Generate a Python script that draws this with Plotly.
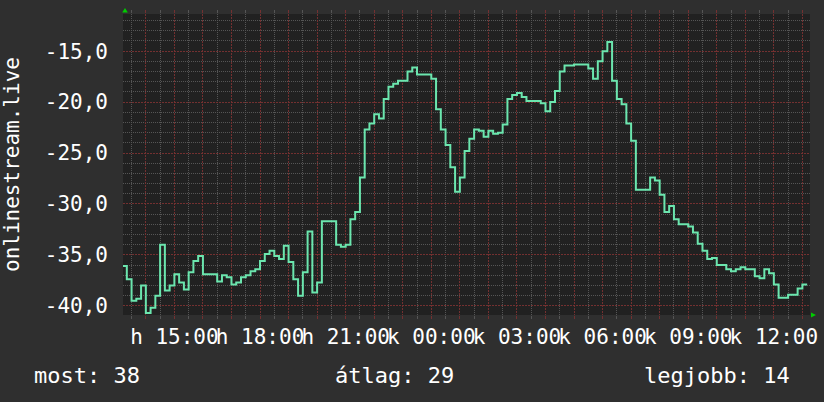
import pandas as pd
import plotly.graph_objects as go

# ---- data ----
start_time = "2024-01-01 13:10"   # Monday (h) -> Tuesday (k)
step_minutes = 10
values = [
    -36.1, -37.4, -39.5, -39.3, -38.0, -40.7, -40.2, -39.0, -34.0, -38.5,
    -38.0, -36.9, -37.7, -38.4, -36.7, -35.6, -35.1, -36.9, -36.9, -36.9,
    -37.6, -37.0, -37.2, -37.9, -37.7, -37.2, -37.0, -36.6, -36.4, -35.6,
    -34.9, -34.6, -35.1, -35.4, -34.1, -35.7, -37.4, -39.0, -36.7, -32.7,
    -38.7, -37.7, -31.7, -31.7, -31.7, -34.0, -34.2, -34.0, -31.5, -30.8,
    -27.4, -22.7, -22.1, -21.2, -21.6, -19.7, -18.5, -18.2, -17.9, -17.9,
    -17.0, -16.6, -17.3, -17.3, -17.3, -17.7, -20.7, -22.7, -24.2, -26.4,
    -28.8, -27.4, -24.8, -23.6, -22.7, -22.8, -23.4, -22.8, -23.1, -23.0,
    -22.2, -19.7, -19.3, -19.1, -19.5, -19.9, -19.9, -19.9, -20.1, -20.9,
    -20.0, -18.9, -17.0, -16.4, -16.4, -16.3, -16.3, -16.3, -16.7, -17.7,
    -16.0, -15.0, -14.1, -17.9, -19.7, -20.2, -22.1, -23.8, -28.6, -28.6,
    -28.6, -27.4, -27.7, -29.1, -30.8, -30.2, -31.5, -32.0, -32.0, -32.2,
    -32.8, -33.9, -34.6, -35.4, -35.3, -36.0, -36.0, -36.4, -36.6, -36.4,
    -36.2, -36.4, -36.4, -37.1, -37.3, -36.4, -36.8, -37.9, -39.2, -39.2,
    -38.9, -38.9, -38.3, -37.9, -37.9,
]
times = pd.date_range(start_time, periods=len(values), freq=f"{step_minutes}min")

x_range = ["2024-01-01 13:12", "2024-01-02 13:16"]
halfhour_ticks = pd.date_range("2024-01-01 13:30", "2024-01-02 12:30", freq="1h")
hour_ticks = pd.date_range("2024-01-01 14:00", "2024-01-02 13:00", freq="1h")
label_ticks = {
    "2024-01-01 15:00": "h 15:00",
    "2024-01-01 18:00": "h 18:00",
    "2024-01-01 21:00": "h 21:00",
    "2024-01-02 00:00": "k 00:00",
    "2024-01-02 03:00": "k 03:00",
    "2024-01-02 06:00": "k 06:00",
    "2024-01-02 09:00": "k 09:00",
    "2024-01-02 12:00": "k 12:00",
}
x_ticktext = [label_ticks.get(t.strftime("%Y-%m-%d %H:%M"), "") for t in hour_ticks]

y_minor_ticks = [v for v in range(-40, -11) if v % 5 != 0]
y_ticks = [-40, -35, -30, -25, -20, -15]
y_ticktext = ["-40,0", "-35,0", "-30,0", "-25,0", "-20,0", "-15,0"]
y_range = [-40.9, -11.35]

y_title = "onlinestream.live"
footer_texts = ["most: 38", "átlag: 29", "legjobb: 14"]

# ---- style ----
FONT = "DejaVu Sans Mono"
PAPER = "#2f2f2f"
PLOT = "#212121"
MINOR = "#555555"
MAJOR = "#733030"
LINE = "#6be6ae"
MINOR_DASH = "1px,1px"
MAJOR_DASH = "2px,1px"
TXT = "#ffffff"

fig = go.Figure()
fig.add_trace(go.Scatter(
    x=times, y=values, mode="lines", line=dict(color=LINE, width=2, shape="hv"),
    hoverinfo="skip", showlegend=False,
))
# invisible copy on the overlay axes (carries the major grid + labels)
fig.add_trace(go.Scatter(
    x=times, y=values, mode="lines", line=dict(width=0), opacity=0,
    xaxis="x2", yaxis="y2", hoverinfo="skip", showlegend=False,
))

W, H = 824, 402
L, R, T, B = 123, 14, 14, 87
pw = W - L - R
ph = H - T - B

common = dict(zeroline=False, showline=False, fixedrange=True, automargin=False)

fig.update_layout(
    width=W, height=H,
    margin=dict(l=L, r=R, t=T, b=B, pad=0),
    paper_bgcolor=PAPER, plot_bgcolor=PLOT,
    font=dict(family=FONT, size=21, color=TXT),
    xaxis=dict(
        range=x_range, tickmode="array", tickvals=halfhour_ticks, showticklabels=False,
        showgrid=True, gridcolor=MINOR, griddash=MINOR_DASH, gridwidth=1,
        ticks="outside", ticklen=3, tickcolor=MINOR, mirror="ticks", **common,
    ),
    yaxis=dict(
        range=y_range, tickmode="array", tickvals=y_minor_ticks, showticklabels=False,
        showgrid=True, gridcolor=MINOR, griddash=MINOR_DASH, gridwidth=1, ticks="", **common,
    ),
    xaxis2=dict(
        overlaying="x", anchor="y2", side="bottom",
        range=x_range, tickmode="array", tickvals=hour_ticks, ticktext=x_ticktext,
        tickangle=0, showgrid=True, gridcolor=MAJOR, griddash=MAJOR_DASH, gridwidth=1,
        ticks="outside", ticklen=3, tickcolor=MAJOR, mirror="ticks",
        tickfont=dict(family=FONT, size=21, color=TXT), **common,
    ),
    yaxis2=dict(
        overlaying="y", anchor="x2", side="left",
        range=y_range, tickmode="array", tickvals=y_ticks, ticktext=y_ticktext,
        showgrid=True, gridcolor=MAJOR, griddash=MAJOR_DASH, gridwidth=1,
        ticks="", ticklabelstandoff=14,
        tickfont=dict(family=FONT, size=21, color=TXT), **common,
    ),
)

# y-axis title (rotated)
fig.add_annotation(
    text=y_title, xref="paper", yref="paper",
    x=(12 - L) / pw, y=(T + ph - 165) / ph, textangle=-90,
    xanchor="center", yanchor="middle", showarrow=False,
    font=dict(family=FONT, size=21, color=TXT),
)

# footer summary texts
footer_pos = [((32 - L) / pw, "left"), ((333 - L) / pw, "left"), ((792 - L) / pw, "right")]
for txt, (px, anchor) in zip(footer_texts, footer_pos):
    fig.add_annotation(
        text=txt, xref="paper", yref="paper", x=px, y=(T + ph - 375) / ph,
        xanchor=anchor, yanchor="middle", showarrow=False,
        font=dict(family=FONT, size=22, color=TXT),
    )

# axis arrows (green triangles)
fig.add_shape(type="path", xref="paper", yref="paper", xsizemode="pixel", ysizemode="pixel",
              xanchor=0, yanchor=1, path="M -0.8,1.5 L 4.8,1.5 L 2,6 Z",
              fillcolor="#00cc00", line=dict(width=0))
fig.add_shape(type="path", xref="paper", yref="paper", xsizemode="pixel", ysizemode="pixel",
              xanchor=1, yanchor=0, path="M 1,-2.5 L 1,2.5 L 6,0 Z",
              fillcolor="#00cc00", line=dict(width=0))

post = "document.body.style.margin='0';document.body.style.background='%s';" % PAPER
fig.write_html("out.html", config=dict(displayModeBar=False), post_script=post)
